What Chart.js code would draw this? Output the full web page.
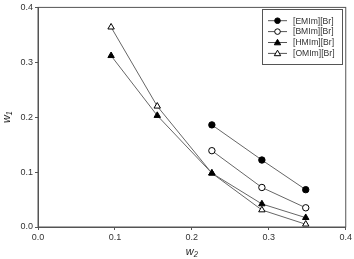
<!DOCTYPE html>
<html>
<head>
<meta charset="utf-8">
<script src="https://cdn.jsdelivr.net/npm/chart.js@4"></script>
<style>
  html, body { margin: 0; padding: 0; background: #fff; }
  #wrap { width: 354px; height: 259px; position: relative; }
</style>
</head>
<body>
<div id="wrap"><canvas id="myChart"></canvas></div>
<script>
// Data
const names = ["[EMIm][Br]", "[BMIm][Br]", "[HMIm][Br]", "[OMIm][Br]"];
const w2Short = [0.226, 0.291, 0.348];
const w2Long = [0.095, 0.155, 0.226, 0.291, 0.348];
const emim = [0.186, 0.122, 0.068];
const bmim = [0.139, 0.072, 0.035];
const hmim = [0.312, 0.203, 0.098, 0.042, 0.017];
const omim = [0.364, 0.220, 0.098, 0.031, 0.005];
const xTicks = [0.0, 0.1, 0.2, 0.3, 0.4];
const yTicks = [0.0, 0.1, 0.2, 0.3, 0.4];

const toPts = (xs, ys) => ys.map((y, k) => ({ x: xs[k], y: y }));

const styles = [
  { pointStyle: "circle", fill: "#000", r: 3.2 },
  { pointStyle: "circle", fill: "#fff", r: 3.2 },
  { pointStyle: "triangle", fill: "#000", r: 3.7 },
  { pointStyle: "triangle", fill: "#fff", r: 3.7 },
];
const series = [toPts(w2Short, emim), toPts(w2Short, bmim), toPts(w2Long, hmim), toPts(w2Long, omim)];

const datasets = names.map((n, k) => ({
  label: n,
  data: series[k],
  showLine: true,
  borderColor: "#666",
  borderWidth: 1,
  pointStyle: styles[k].pointStyle,
  pointRadius: styles[k].r,
  pointBackgroundColor: styles[k].fill,
  pointBorderColor: "#000",
  pointBorderWidth: 1,
}));

// frame box + legend
const boxPlugin = {
  id: "box",
  afterDraw(chart) {
    const { ctx, chartArea: a } = chart;
    ctx.save();
    ctx.strokeStyle = "#555";
    ctx.lineWidth = 1;
    ctx.strokeRect(a.left, a.top, a.right - a.left, a.bottom - a.top);

    // legend
    ctx.strokeRect(262.5, 9.5, 80, 55);
    ctx.font = "8.6px 'Liberation Sans', Arial, sans-serif";
    ctx.textBaseline = "middle";
    names.forEach((n, k) => {
      const y = 20.7 + k * 10.9;
      ctx.strokeStyle = "#555";
      ctx.beginPath();
      ctx.moveTo(268, y);
      ctx.lineTo(287, y);
      ctx.stroke();
      ctx.fillStyle = styles[k].fill;
      ctx.strokeStyle = "#000";
      ctx.beginPath();
      const cx = 277.5;
      if (styles[k].pointStyle === "circle") {
        ctx.arc(cx, y, 2.8, 0, Math.PI * 2);
      } else {
        ctx.moveTo(cx, y - 3.2);
        ctx.lineTo(cx + 3.2, y + 2.3);
        ctx.lineTo(cx - 3.2, y + 2.3);
        ctx.closePath();
      }
      ctx.fill();
      ctx.stroke();
      ctx.fillStyle = "#333";
      ctx.fillText(n, 293, y + 0.5);
    });
    ctx.restore();
  },
};

const tickFont = { family: "'Liberation Sans', Arial, sans-serif", size: 9 };

new Chart(document.getElementById("myChart"), {
  type: "scatter",
  data: { datasets },
  options: {
    responsive: true,
    maintainAspectRatio: false,
    animation: false,
    layout: { padding: { top: 4, right: 6, left: 0, bottom: 0 } },
    plugins: { legend: { display: false }, tooltip: { enabled: false } },
    scales: {
      x: {
        type: "linear",
        min: 0,
        max: 0.4,
        afterBuildTicks: (s) => { s.ticks = xTicks.map((v) => ({ value: v })); },
        afterFit: (s) => { s.height = 32; },
        ticks: { color: "#333", font: tickFont, padding: 2, callback: (v) => v.toFixed(1) },
        grid: { drawOnChartArea: false, tickLength: 3, color: "#555" },
        border: { color: "#555" },
        title: {
          display: true,
          text: "w₂",
          color: "#222",
          font: { family: "'Liberation Sans', Arial, sans-serif", size: 11, style: "italic" },
          padding: { top: 2, bottom: 0 },
        },
      },
      y: {
        type: "linear",
        min: 0,
        max: 0.4,
        afterBuildTicks: (s) => { s.ticks = yTicks.map((v) => ({ value: v })); },
        afterFit: (s) => { s.width = 38; },
        ticks: { color: "#333", font: tickFont, padding: 2, callback: (v) => v.toFixed(1) },
        grid: { drawOnChartArea: false, tickLength: 3, color: "#555" },
        border: { color: "#555" },
        title: {
          display: true,
          text: "w₁",
          color: "#222",
          font: { family: "'Liberation Sans', Arial, sans-serif", size: 11, style: "italic" },
          padding: { top: 0, bottom: 3 },
        },
      },
    },
  },
  plugins: [boxPlugin],
});
</script>
</body>
</html>
